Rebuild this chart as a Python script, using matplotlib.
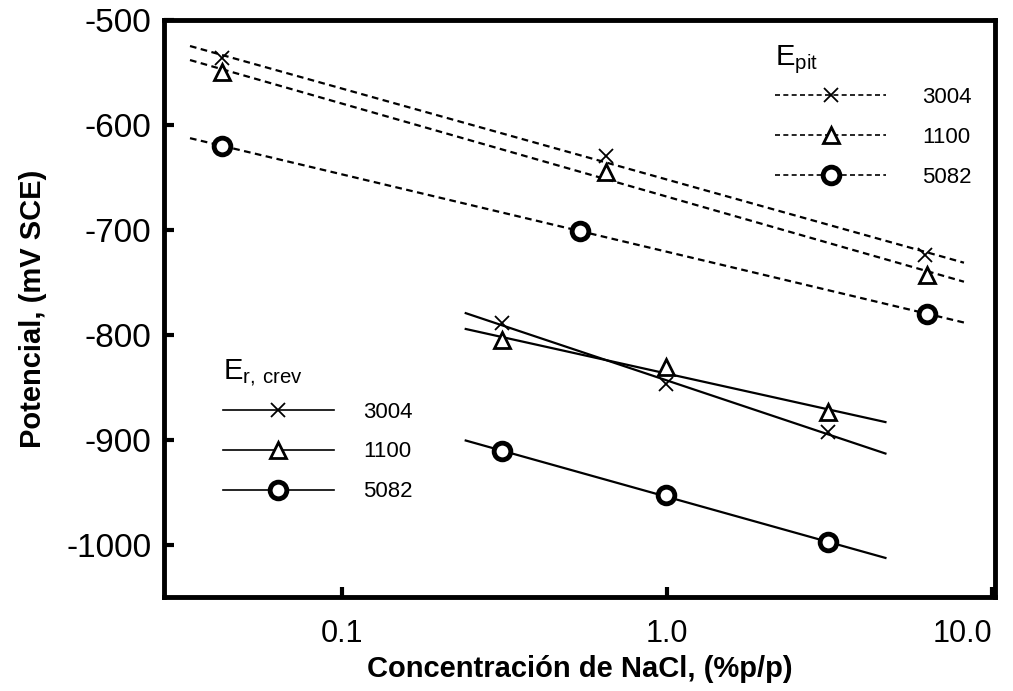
import numpy as np
import matplotlib.pyplot as plt
from matplotlib.lines import Line2D

plt.rcParams['font.family'] = ['Liberation Sans', 'DejaVu Sans']
plt.rcParams['mathtext.fontset'] = 'custom'
plt.rcParams['mathtext.rm'] = 'Liberation Sans'
plt.rcParams['axes.unicode_minus'] = False

# E pit (lineas discontinuas)
pit_x_3004 = [0.0427, 0.65, 6.2]
pit_y_3004 = [-536, -630, -724]
pit_x_1100 = [0.0427, 0.65, 6.3]
pit_y_1100 = [-550, -645, -743]
pit_x_5082 = [0.0427, 0.54, 6.3]
pit_y_5082 = [-620, -701, -780]
pit_rango = [0.034, 8.2]

# E r,crev (lineas continuas)
crev_x = [0.31, 0.99, 3.13]
crev_y_3004 = [-789, -847, -893]
crev_y_1100 = [-805, -831, -874]
crev_y_5082 = [-911, -953, -998]
crev_rango = [0.24, 4.7]

aleaciones = ['3004', '1100', '5082']
marcadores = {
    '3004': dict(marker='x', markersize=10, markeredgewidth=1.3),
    '1100': dict(marker='^', markersize=12, markeredgewidth=2.0, markerfacecolor='white'),
    '5082': dict(marker='o', markersize=12, markeredgewidth=3.5, markerfacecolor='white'),
}
dash = (0, (3, 2))


def recta(xs, ys, rango):
    # ajuste lineal en log(x)
    p = np.polyfit(np.log10(xs), ys, 1)
    xx = np.array(rango)
    return xx, np.polyval(p, np.log10(xx))


fig = plt.figure(figsize=(10.13, 6.91), dpi=100)
ax = fig.add_axes([0.162, 0.136, 0.82, 0.835])

pit = [(pit_x_3004, pit_y_3004), (pit_x_1100, pit_y_1100), (pit_x_5082, pit_y_5082)]
for nombre, (xs, ys) in zip(aleaciones, pit):
    xx, yy = recta(xs, ys, pit_rango)
    ax.plot(xx, yy, color='black', lw=1.6, linestyle=dash, zorder=2)
    ax.plot(xs, ys, linestyle='none', color='black', zorder=3, **marcadores[nombre])

crev = [crev_y_3004, crev_y_1100, crev_y_5082]
for nombre, ys in zip(aleaciones, crev):
    xx, yy = recta(crev_x, ys, crev_rango)
    ax.plot(xx, yy, color='black', lw=1.6, zorder=2)
    ax.plot(crev_x, ys, linestyle='none', color='black', zorder=3, **marcadores[nombre])

ax.set_xscale('log')
ax.set_xlim(0.0283, 10.2)
ax.set_ylim(-1050, -500)
ax.set_xticks([0.1, 1.0, 10.0])
ax.set_xticklabels(['0.1', '1.0', '10.0'])
ax.get_xticklabels()[-1].set_horizontalalignment('right')
ax.minorticks_off()
ax.set_yticks([-500, -600, -700, -800, -900, -1000])
ax.tick_params(axis='both', direction='in', length=7, width=3)
ax.tick_params(axis='y', labelsize=24, pad=9)
ax.tick_params(axis='x', labelsize=22, pad=16)
for s in ax.spines.values():
    s.set_linewidth(3.5)

ax.set_xlabel('Concentración de NaCl, (%p/p)', fontsize=21, fontweight='bold', labelpad=4)
ax.set_ylabel('Potencial, (mV SCE)', fontsize=21, fontweight='bold', labelpad=14)

# leyendas
h_pit = [Line2D([], [], color='black', lw=1.2, linestyle=dash, **marcadores[a]) for a in aleaciones]
h_crev = [Line2D([], [], color='black', lw=1.2, **marcadores[a]) for a in aleaciones]

leg1 = ax.legend(h_pit, aleaciones, title=r'E$_{\mathregular{pit}}$', loc='upper left',
                 bbox_to_anchor=(0.725, 0.975), frameon=False, fontsize=16, numpoints=1,
                 handlelength=5.0, handletextpad=1.6, labelspacing=0.85,
                 title_fontsize=21, alignment='left', borderaxespad=0)
leg1._legend_box.sep = 8
ax.add_artist(leg1)
leg2 = ax.legend(h_crev, aleaciones, title=r'E$_{\mathregular{r,\,crev}}$', loc='upper left',
                 bbox_to_anchor=(0.06, 0.43), frameon=False, fontsize=16, numpoints=1,
                 handlelength=5.0, handletextpad=1.3, labelspacing=0.85,
                 title_fontsize=21, alignment='left', borderaxespad=0)
leg2._legend_box.sep = 9

fig.savefig('out.png', dpi=100)
